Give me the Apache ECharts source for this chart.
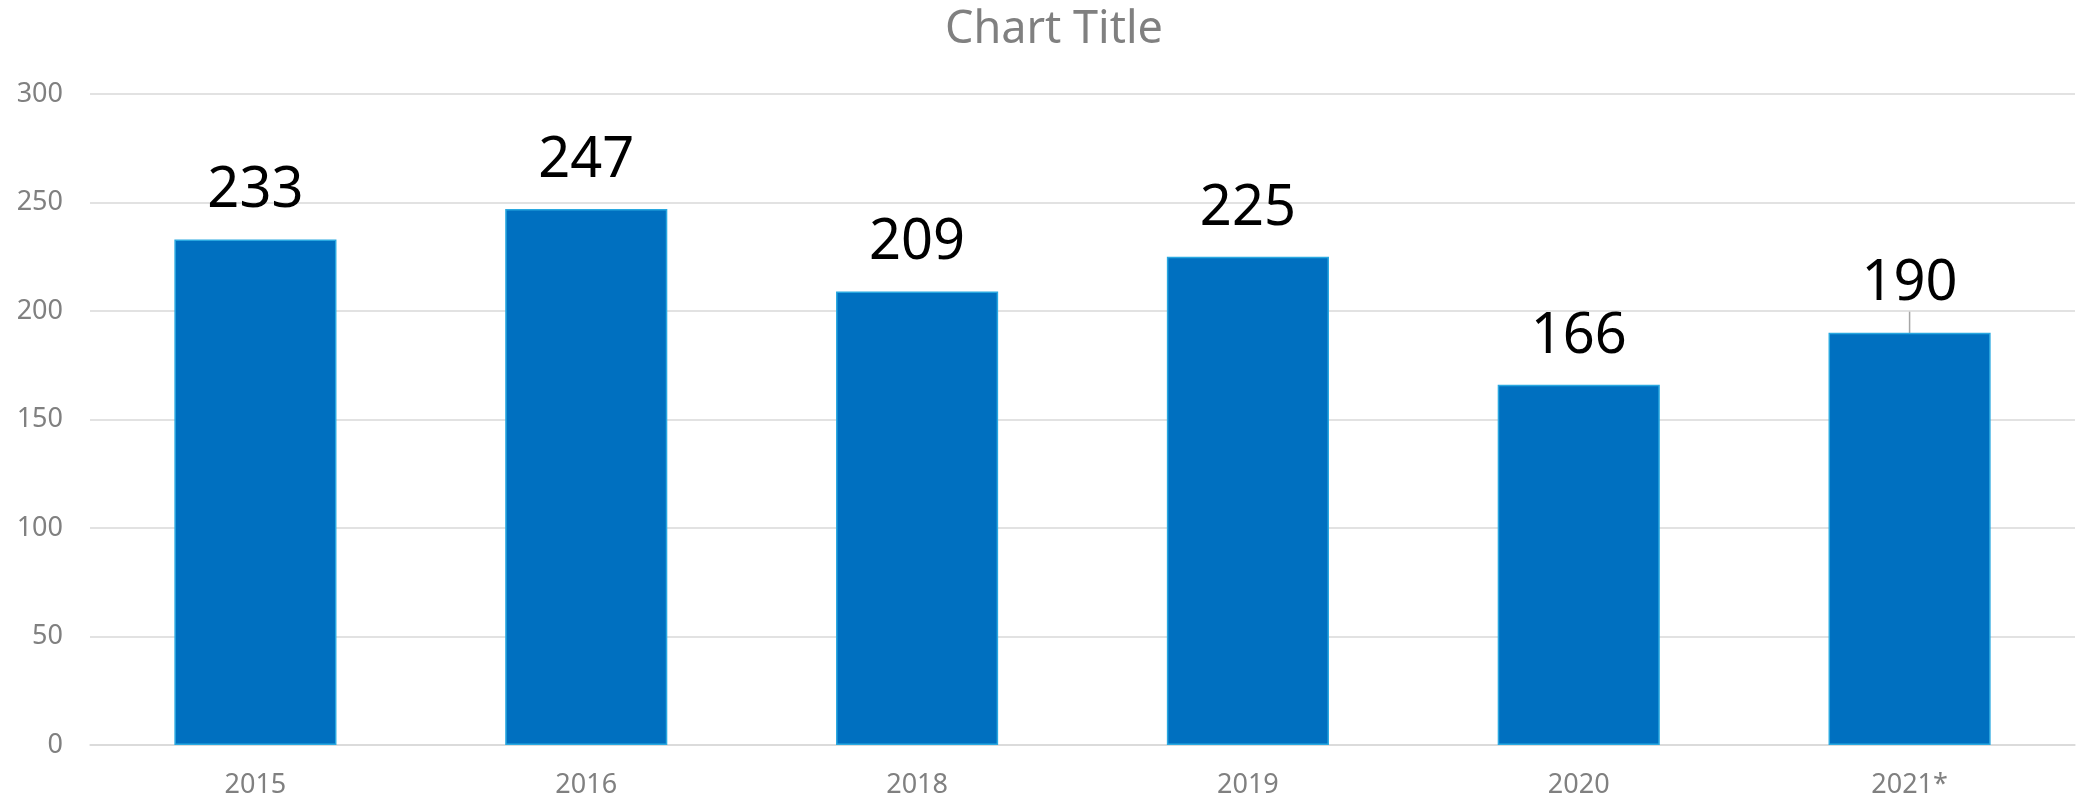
<!DOCTYPE html>
<html>
<head>
<meta charset="utf-8">
<script src="https://cdn.jsdelivr.net/npm/echarts@6/dist/echarts.min.js"></script>
<style>
  html, body { margin: 0; padding: 0; background: #fff; }
  #chart { width: 2077px; height: 800px; }
</style>
</head>
<body>
<div id="chart"></div>
<script>
// 数据
var years = ['2015', '2016', '2018', '2019', '2020', '2021*'];
var counts = [233, 247, 209, 225, 166, 190];
var yTicks = [0, 300, 50]; // min, max, interval

var chart = echarts.init(document.getElementById('chart'));

var barData = counts.map(function (v, i) {
    var item = { value: v };
    // 2021* 的标签有一条引导线
    if (i === counts.length - 1) {
        item.labelLine = { show: true, lineStyle: { color: '#a6a6a6', width: 1.5 } };
    }
    return item;
});

var option = {
    animation: false,
    textStyle: { fontFamily: 'Noto Sans' },
    title: {
        text: 'Chart Title',
        left: 940,
        top: 3,
        textStyle: {
            color: '#808080',
            fontSize: 45,
            fontWeight: 'normal',
            fontFamily: 'Noto Sans'
        }
    },
    grid: {
        left: 90,
        right: 2,
        top: 94,
        bottom: 55
    },
    xAxis: {
        type: 'category',
        data: years,
        axisLine: { show: true, lineStyle: { color: '#d9d9d9', width: 1.5 } },
        axisTick: { show: false },
        axisLabel: {
            color: '#808080',
            fontSize: 27,
            margin: 27
        }
    },
    yAxis: {
        type: 'value',
        min: yTicks[0],
        max: yTicks[1],
        interval: yTicks[2],
        axisLine: { show: false },
        axisTick: { show: false },
        splitLine: { lineStyle: { color: '#d9d9d9', width: 1.5 } },
        axisLabel: {
            color: '#808080',
            fontSize: 27,
            margin: 27
        }
    },
    series: [{
        type: 'bar',
        data: barData,
        barWidth: '49%',
        itemStyle: {
            color: '#0070c0',
            borderColor: '#29a8e0',
            borderWidth: 1.5
        },
        label: {
            show: true,
            position: 'top',
            distance: 20,
            color: '#000',
            fontSize: 56,
            fontFamily: 'Noto Sans'
        },
        labelLayout: function (params) {
            if (params.dataIndex === counts.length - 1) {
                return { dy: -1 };
            }
        }
    }]
};

chart.setOption(option);
</script>
</body>
</html>
